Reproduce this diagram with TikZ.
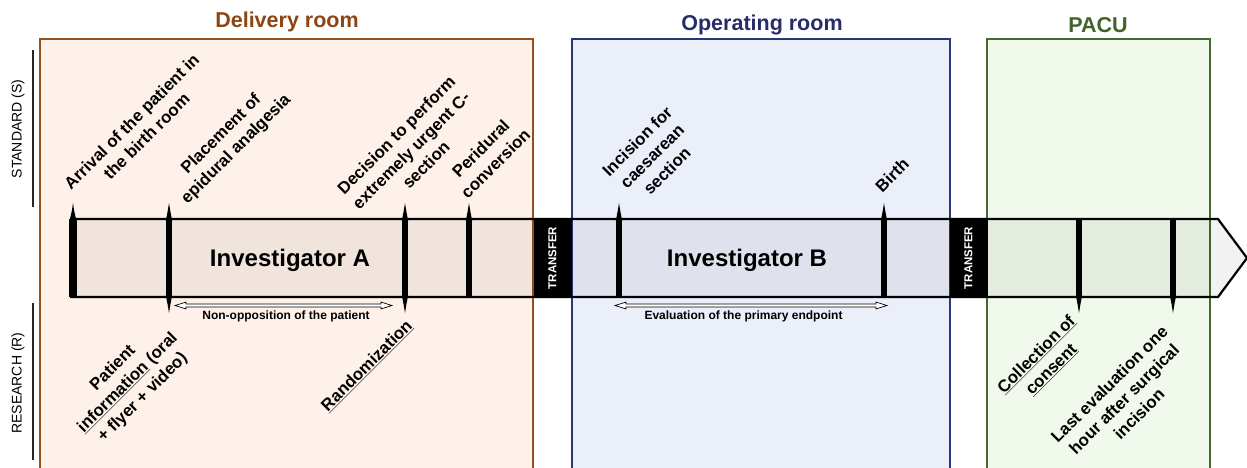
\documentclass[tikz,border=0pt]{standalone}
\usepackage{fontspec}
\setmainfont{Liberation Sans}
\definecolor{dfill}{RGB}{253,241,233}
\definecolor{dline}{RGB}{150,80,30}
\definecolor{dtitle}{RGB}{140,70,20}
\definecolor{ofill}{RGB}{235,239,249}
\definecolor{oline}{RGB}{40,55,120}
\definecolor{otitle}{RGB}{40,45,105}
\definecolor{pfill}{RGB}{241,249,236}
\definecolor{pline}{RGB}{70,105,50}
\definecolor{ptitle}{RGB}{65,100,45}
\newcommand\evbar[1]{\fill (#1-3.2,219) rectangle (#1+3.2,297);}
\newcommand\evup[1]{\fill (#1-3.2,221) -- (#1-1.3,211) -- (#1,203) -- (#1+1.3,211) -- (#1+3.2,221) -- cycle;}
\newcommand\evdown[1]{\fill (#1-3.2,295) -- (#1-1.3,305) -- (#1,313) -- (#1+1.3,305) -- (#1+3.2,295) -- cycle;}
\newcommand\dblarrow[3]{\draw[line width=0.7pt, fill=white] (#1,#3) -- (#1+11,#3-3.4) -- (#1+11,#3-1.5) -- (#2-11,#3-1.5) -- (#2-11,#3-3.4) -- (#2,#3) -- (#2-11,#3+3.4) -- (#2-11,#3+1.5) -- (#1+11,#3+1.5) -- (#1+11,#3+3.4) -- cycle;}
\begin{document}
\begin{tikzpicture}[x=1pt,y=-1pt,
  lab/.style={font=\fontsize{16.8}{21}\selectfont\bfseries, align=center, rotate=45, inner sep=0pt},
  title/.style={font=\fontsize{21.5}{25}\selectfont\bfseries, inner sep=0pt},
  side/.style={font=\fontsize{14}{17}\selectfont, rotate=90, inner sep=0pt},
  sideline/.style={line width=1.6pt, black!85},
  inv/.style={font=\fontsize{24}{28}\selectfont\bfseries, inner sep=0pt},
  small/.style={font=\fontsize{12}{14}\selectfont\bfseries, inner sep=0pt},
  transfer/.style={fill=black, text=white, rotate=90, minimum width=78pt, minimum height=38pt, inner sep=0pt, font=\fontsize{11.5}{13}\selectfont\bfseries}
]
\useasboundingbox (0,0) rectangle (1247,467);
% rooms
\fill[dfill] (40,39) rectangle (533,480);
\draw[dline, line width=1.6pt] (40,480) -- (40,39) -- (533,39) -- (533,480);
\fill[ofill] (572,39) rectangle (950,480);
\draw[oline, line width=1.6pt] (572,480) -- (572,39) -- (950,39) -- (950,480);
\fill[pfill] (987,39) rectangle (1210,480);
\draw[pline, line width=1.6pt] (987,480) -- (987,39) -- (1210,39) -- (1210,480);
\node[title, text=dtitle] (tdel) at (287,22) {Delivery room};
\node[title, text=otitle] (tor) at (762,25) {Operating room};
\node[title, text=ptitle] (tpacu) at (1098,25) {PACU};
% side labels
\node[side] (std) at (18,129) {STANDARD (S)};
\draw[sideline] (33,50) -- (33,207);
\node[side] (res) at (18,383) {RESEARCH (R)};
\draw[sideline] (33,303) -- (33,460);
% band
\fill[black, opacity=0.05] (70,219) -- (1218,219) -- (1247,258) -- (1218,297) -- (70,297) -- cycle;
% markers
\fill (69,219) rectangle (77,297);
\fill (69.5,221) -- (71.8,211) -- (73,203) -- (74.2,211) -- (76.5,221) -- cycle;
\foreach \x in {169,405,469,619,884,1079,1173} {\evbar{\x}}
\foreach \x in {169,405,469,619,884} {\evup{\x}}
\foreach \x in {169,405,1079,1173} {\evdown{\x}}
% transfers
\node[transfer] (tr1) at (552.5,258) {TRANSFER};
\node[transfer] (tr2) at (968.5,258) {TRANSFER};
\draw[line width=2.2pt, line join=miter] (70,219) -- (1218,219) -- (1247,258) -- (1218,297) -- (70,297);
% investigators
\node[inv] (ia) at (290,260) {Investigator A};
\node[inv] (ib) at (747,260) {Investigator B};
% double arrows
\dblarrow{175}{392}{305.5}
\dblarrow{615}{887}{305.5}
\node[small] (nop) at (286,316.5) {Non-opposition of the patient};
\node[small] (eva) at (743.5,316.5) {Evaluation of the primary endpoint};
% labels
\node[lab] (arr) at (139,129) {Arrival of the patient in\\the birth room};
\node[lab] (pla) at (229,142) {Placement of\\epidural analgesia};
\node[lab] (dec) at (411,150) {Decision to perform\\extremely urgent C-\\section};
\node[lab] (per) at (488,156) {Peridural\\conversion};
\node[lab] (inc) at (652,156) {Incision for\\caesarean\\section};
\node[lab] (bir) at (892,175) {Birth};
\node[lab] (pat) at (128,383) {Patient\\\underline{information} (oral\\+ flyer + video)};
\node[lab] (ran) at (367,366) {\underline{Randomization}};
\node[lab] (col) at (1044,362) {\underline{Collection of}\\\underline{consent}};
\node[lab] (las) at (1124,399) {Last evaluation one\\hour after surgical\\incision};
\end{tikzpicture}
\end{document}
